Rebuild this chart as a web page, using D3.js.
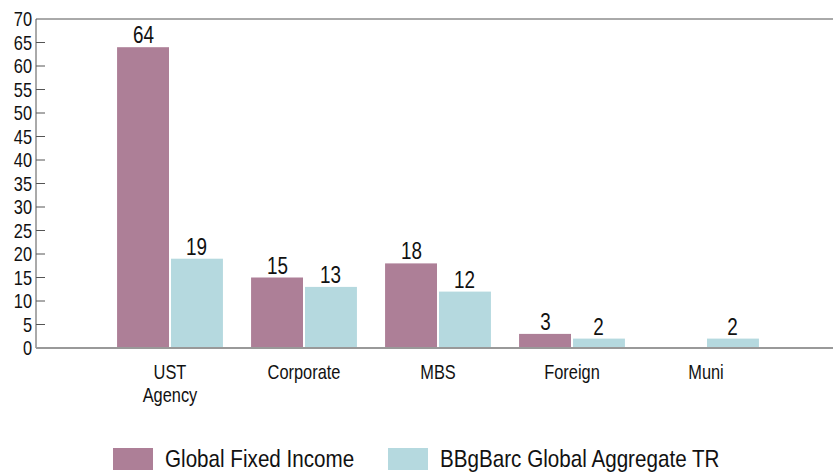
<!DOCTYPE html>
<html>
<head>
<meta charset="utf-8">
<script src="https://cdn.jsdelivr.net/npm/d3@7"></script>
<style>
  body { margin: 0; background: #fff; }
  svg { font-family: "Liberation Sans", Arial, sans-serif; }
</style>
</head>
<body>
<svg id="chart" width="833" height="473"></svg>
<script>
// data
var categories = ["UST\nAgency", "Corporate", "MBS", "Foreign", "Muni"];
var seriesNames = ["Global Fixed Income", "BBgBarc Global Aggregate TR"];
var fixedIncome = [64, 15, 18, 3, null];
var aggregate = [19, 13, 12, 2, 2];
var yTicks = [0, 5, 10, 15, 20, 25, 30, 35, 40, 45, 50, 55, 60, 65, 70];
var colors = ["#ad7f97", "#b5d9df"];

var svg = d3.select("#chart");
var plotLeft = 36, plotRight = 833, plotTop = 19, plotBottom = 348;

// narrow text: the reference uses a condensed face, so squeeze horizontally
function addText(parent, x, y, str, size, anchor, squeeze) {
  return parent.append("text")
    .attr("transform", "translate(" + x + "," + y + ") scale(" + (squeeze || 0.82) + ",1)")
    .attr("text-anchor", anchor || "start")
    .attr("font-size", size)
    .attr("fill", "#111")
    .text(str);
}

var x = d3.scaleBand().domain(categories).range([103, 773]).paddingInner(0.21).paddingOuter(0.105);
var xSub = d3.scaleBand().domain([0, 1]).range([0, x.bandwidth()]);
var y = d3.scaleLinear().domain([0, 70]).range([plotBottom, plotTop]);

// frame
svg.append("line").attr("x1", plotLeft).attr("x2", plotRight).attr("y1", plotTop).attr("y2", plotTop)
  .attr("stroke", "#555").attr("stroke-width", 1);
svg.append("line").attr("x1", plotLeft).attr("x2", plotLeft).attr("y1", plotTop).attr("y2", plotBottom)
  .attr("stroke", "#555").attr("stroke-width", 1);

// y ticks
var yAxis = svg.append("g");
yTicks.forEach(function(t) {
  if (t > 0 && t < 70) {
    yAxis.append("line").attr("x1", plotLeft).attr("x2", plotLeft + 9)
      .attr("y1", y(t)).attr("y2", y(t)).attr("stroke", "#555");
  }
  addText(yAxis, 32, y(t) + 7, t, 20, "end");
});

// bars
var series = [fixedIncome, aggregate];
series.forEach(function(vals, s) {
  var g = svg.append("g");
  categories.forEach(function(c, i) {
    var v = vals[i];
    if (v == null) return;
    g.append("rect")
      .attr("x", x(c) + xSub(s) + (s === 1 ? 1 : 0))
      .attr("width", xSub.bandwidth() - 1)
      .attr("y", y(v))
      .attr("height", y(0) - y(v))
      .attr("fill", colors[s]);
    addText(g, x(c) + xSub(s) + xSub.bandwidth() / 2, y(v) - 4, v, 23, "middle");
  });
});

// baseline
svg.append("line").attr("x1", plotLeft).attr("x2", plotRight).attr("y1", plotBottom).attr("y2", plotBottom)
  .attr("stroke", "#999").attr("stroke-width", 2);

// category labels
categories.forEach(function(c) {
  c.split("\n").forEach(function(l, k) {
    addText(svg, x(c) + x.bandwidth() / 2, 379 + k * 23, l, 20, "middle");
  });
});

// legend
var legendX = [113, 388];
seriesNames.forEach(function(name, s) {
  svg.append("rect").attr("x", legendX[s]).attr("y", 448).attr("width", 40).attr("height", 22)
    .attr("fill", colors[s]);
  addText(svg, legendX[s] + 52, 467, name, 24, "start", 0.86);
});
</script>
</body>
</html>
